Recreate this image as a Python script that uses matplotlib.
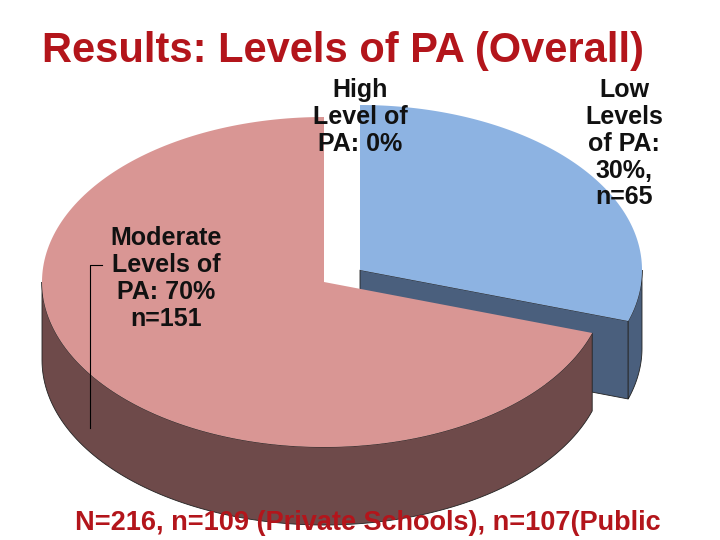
import numpy as np
import matplotlib.pyplot as plt
from matplotlib.patches import Polygon

labels = ["High\nLevel of\nPA: 0%", "Low\nLevels\nof PA:\n30%,\nn=65", "Moderate\nLevels of\nPA: 70%\nn=151"]
values = [0, 30, 70]
top_colors = ["#ffffff", "#8DB3E2", "#D99694"]
wall_colors = ["#ffffff", "#4A5F7D", "#6E4A4A"]
# wedge centres (pixel space); moderate slice is pulled out a bit
centres = [(360, 270), (360, 270), (324, 282)]
rx, ry, depth = 282, 165, 78

plt.rcParams['font.family'] = ['Liberation Sans', 'DejaVu Sans']
fig = plt.figure(figsize=(7.2, 5.4), dpi=100)
ax = fig.add_axes([0, 0, 1, 1])
ax.set_xlim(0, 720)
ax.set_ylim(540, 0)
ax.axis('off')

def pt(c, a, dz=0):
    return (c[0] + rx * np.cos(a), c[1] - ry * np.sin(a) + dz)

total = sum(values)
start = np.pi / 2
wedges = []
for v, tc, wc, c in zip(values, top_colors, wall_colors, centres):
    sweep = 2 * np.pi * v / total
    wedges.append((start - sweep, start, tc, wc, c))
    start -= sweep

# side walls first
for a0, a1, tc, wc, c in wedges:
    if a1 - a0 <= 0:
        continue
    if tc == "#8DB3E2":
        # cut face along the end radius, visible because the other slice is pulled away
        p = pt(c, a0)
        face = [c, p, (p[0], p[1] + depth), (c[0], c[1] + depth)]
        ax.add_patch(Polygon(face, closed=True, fc=wc, ec="#222222", lw=0.6, zorder=1))
    segs = []
    for k in range(-2, 2):
        s0, s1 = max(a0, -np.pi + 2 * np.pi * k), min(a1, 2 * np.pi * k)
        if s1 > s0:
            segs.append((s0, s1))
    for s0, s1 in segs:
        t = np.linspace(s0, s1, 120)
        upper = [pt(c, a) for a in t]
        lower = [pt(c, a, depth) for a in t[::-1]]
        ax.add_patch(Polygon(upper + lower, closed=True, fc=wc, ec="#222222", lw=0.6, zorder=2))

# top faces
for a0, a1, tc, wc, c in wedges:
    if a1 - a0 <= 0:
        continue
    t = np.linspace(a0, a1, 200)
    poly = [c] + [pt(c, a) for a in t]
    ax.add_patch(Polygon(poly, closed=True, fc=tc, ec="none", zorder=3))

ax.text(42, 62, "Results: Levels of PA (Overall)", ha="left", va="baseline",
        fontsize=30, fontweight="bold", color="#B3151B", zorder=5)

lab_kw = dict(fontsize=18, ha="center", va="top", linespacing=1.15, zorder=6,
              color="#111111", fontweight="bold")
ax.text(360, 78, labels[0], **lab_kw)
ax.text(624, 78, labels[1], **lab_kw)
ax.text(166, 226, labels[2], **lab_kw)
ax.plot([102, 90, 90], [265, 265, 428], color="black", lw=0.8, zorder=6)

ax.text(75, 530, "N=216, n=109 (Private Schools), n=107(Public", ha="left", va="baseline",
        fontsize=19.5, fontweight="bold", color="#B3151B", zorder=5)

fig.savefig("out.png", dpi=100)
